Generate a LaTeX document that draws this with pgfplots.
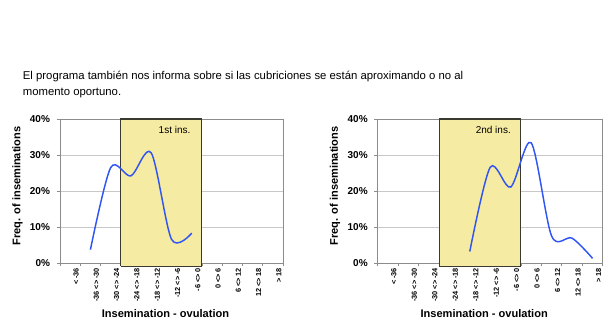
\documentclass[border=0pt]{standalone}
\usepackage{pgfplots}
\pgfplotsset{compat=1.18}
\usepackage{fontspec}
\setmainfont{Liberation Sans}
\definecolor{boxyellow}{HTML}{F6EBA2}
\definecolor{boxedge}{HTML}{3A3A30}
\definecolor{curveblue}{HTML}{2F55F5}
\definecolor{gridgray}{HTML}{C8C8C8}
\definecolor{axgray}{HTML}{8C8C8C}
\pgfplotsset{
  mychart/.style={
    scale only axis, height=108pt,
    xmin=-0.5, xmax=10.5, ymin=0, ymax=40,
    clip=false,
    axis line style={axgray},
    every tick/.style={axgray, line width=0.6pt},
    tick align=outside,
    xtick pos=bottom, ytick pos=left,
    xtick={0,...,10},
    xticklabels={< -36,-36 <> -30,-30 <> -24,-24 <> -18,-18 <> -12,-12 <> -6,-6 <> 0,0 <> 6,6 <> 12,12 <> 18,> 18},
    major x tick style={draw=none},
    minor xtick={-0.5,0.5,...,10.5},
    minor tick length=2.5pt,
    major tick length=2.5pt,
    xticklabel style={rotate=90, anchor=east, font=\bfseries\fontsize{5.5}{6}\selectfont, inner sep=1pt, yshift=-4.5pt},
    ytick={0,10,20,30,40},
    yticklabels={0\%,10\%,20\%,30\%,40\%},
    yticklabel style={font=\bfseries\fontsize{7.5}{9}\selectfont, xshift=-1.5pt},
    ymajorgrids, grid style={gridgray, line width=0.6pt},
    every axis y label/.style={at={(axis description cs:-0.19,0.535)}, rotate=90, anchor=center, font=\bfseries\fontsize{8.3}{10}\selectfont},
    every axis x label/.style={at={(axis description cs:0.473,-0.354)}, anchor=center, font=\bfseries\fontsize{8.3}{10}\selectfont},
    ylabel={Freq. of inseminations},
    xlabel={Insemination - ovulation},
  }
}
\begin{document}
\begin{tikzpicture}
\useasboundingbox (0,0) rectangle (457.5pt,243pt);
\node[anchor=base west, inner sep=0pt, font=\fontsize{8.5}{10}\selectfont] at (17pt,183.4pt) {El programa también nos informa sobre si las cubriciones se están aproximando o no al};
\node[anchor=base west, inner sep=0pt, font=\fontsize{8.5}{10}\selectfont] at (17pt,171pt) {momento oportuno.};

\begin{axis}[mychart, width=167.25pt, at={(45pt,45.75pt)}, anchor=south west]
\addplot[fill=boxyellow, draw=boxedge, line width=0.8pt] coordinates {(2.5,-0.9) (2.5,40) (6.5,40) (6.5,-0.9) (2.5,-0.9)};
\addplot[curveblue, line width=1.1pt, smooth, tension=0.5] coordinates {(1,3.7) (2,26.5) (3,24.2) (4,30.6) (5,6.6) (6,8.3)};
\node[font=\fontsize{7.5}{9}\selectfont] at (axis cs:5.15,36.9) {1st ins.};
\end{axis}

\begin{axis}[mychart, width=168.75pt, at={(283.3pt,45.75pt)}, anchor=south west]
\addplot[fill=boxyellow, draw=boxedge, line width=0.8pt] coordinates {(2.5,-0.9) (2.5,40) (6.5,40) (6.5,-0.9) (2.5,-0.9)};
\addplot[curveblue, line width=1.1pt, smooth, tension=0.5] coordinates {(4,3.2) (5,26.6) (6,21.1) (7,33.4) (8,7.5) (9,6.9) (10,1.3)};
\node[font=\fontsize{7.5}{9}\selectfont] at (axis cs:5.15,36.9) {2nd ins.};
\end{axis}
\end{tikzpicture}
\end{document}
